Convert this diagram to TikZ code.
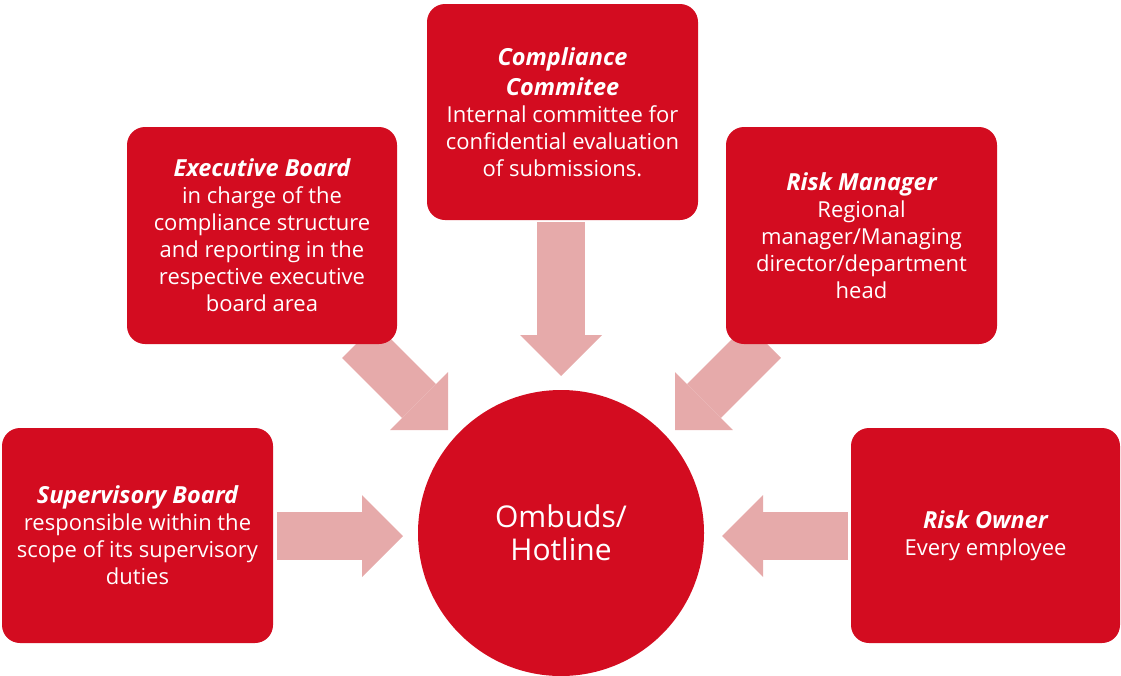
\documentclass[tikz,border=0pt]{standalone}
\usepackage{fontspec}
\setmainfont{Open Sans}
\usetikzlibrary{arrows.meta,backgrounds}
\definecolor{boxred}{HTML}{D30C20}
\definecolor{arrowpink}{HTML}{E6AAAA}
\newcommand\ttltext[1]{{\fontsize{23.5pt}{27pt}\selectfont\bfseries\itshape #1}}
\begin{document}
\begin{tikzpicture}[x=1pt,y=-1pt,
  box/.style={fill=boxred, rounded corners=18pt, text=white, align=center,
    font=\fontsize{22pt}{27pt}\selectfont, inner sep=0pt},
  blockarrow/.style={draw=arrowpink, line width=48pt,
    -{Triangle[length=41pt,width=82pt,line width=0pt,fill=arrowpink]}},
]
\useasboundingbox (0,0) rectangle (1121,675);

\node[box, minimum width=271pt, minimum height=216pt] (cc) at (562.5,112)
  {\ttltext{Compliance}\\[3pt]\ttltext{Commitee}\\Internal committee for\\confidential evaluation\\of submissions.};
\node[box, minimum width=270pt, minimum height=217pt] (eb) at (262,235.5)
  {\ttltext{Executive Board}\\in charge of the\\compliance structure\\and reporting in the\\respective executive\\board area};
\node[box, minimum width=271pt, minimum height=217pt] (rm) at (861.5,235.5)
  {\ttltext{Risk Manager}\\Regional\\manager/Managing\\director/department\\head};
\node[box, minimum width=271pt, minimum height=215pt] (sb) at (137.5,535.5)
  {\ttltext{Supervisory Board}\\responsible within the\\scope of its supervisory\\duties};
\node[box, minimum width=269pt, minimum height=215pt] (ro) at (985.5,535.5)
  {\ttltext{Risk Owner}\\Every employee};
\node[circle, fill=boxred, text=white, minimum size=286pt, inner sep=0pt, align=center,
  font=\fontsize{30pt}{33pt}\selectfont] (hub) at (561,533) {Ombuds/\\Hotline};

\coordinate (ccS) at (561,222);   \coordinate (ccT) at (561,376);
\coordinate (ebS) at (359,341);   \coordinate (ebT) at (448,430);
\coordinate (rmS) at (764,341);   \coordinate (rmT) at (675,430);
\coordinate (sbS) at (277,536);   \coordinate (sbT) at (403,536);
\coordinate (roS) at (848,536);   \coordinate (roT) at (722,536);

\begin{scope}[on background layer]
  \draw[blockarrow] (ccS) -- (ccT);
  \draw[blockarrow] (ebS) -- (ebT);
  \draw[blockarrow] (rmS) -- (rmT);
  \draw[blockarrow] (sbS) -- (sbT);
  \draw[blockarrow] (roS) -- (roT);
\end{scope}
\end{tikzpicture}
\end{document}
